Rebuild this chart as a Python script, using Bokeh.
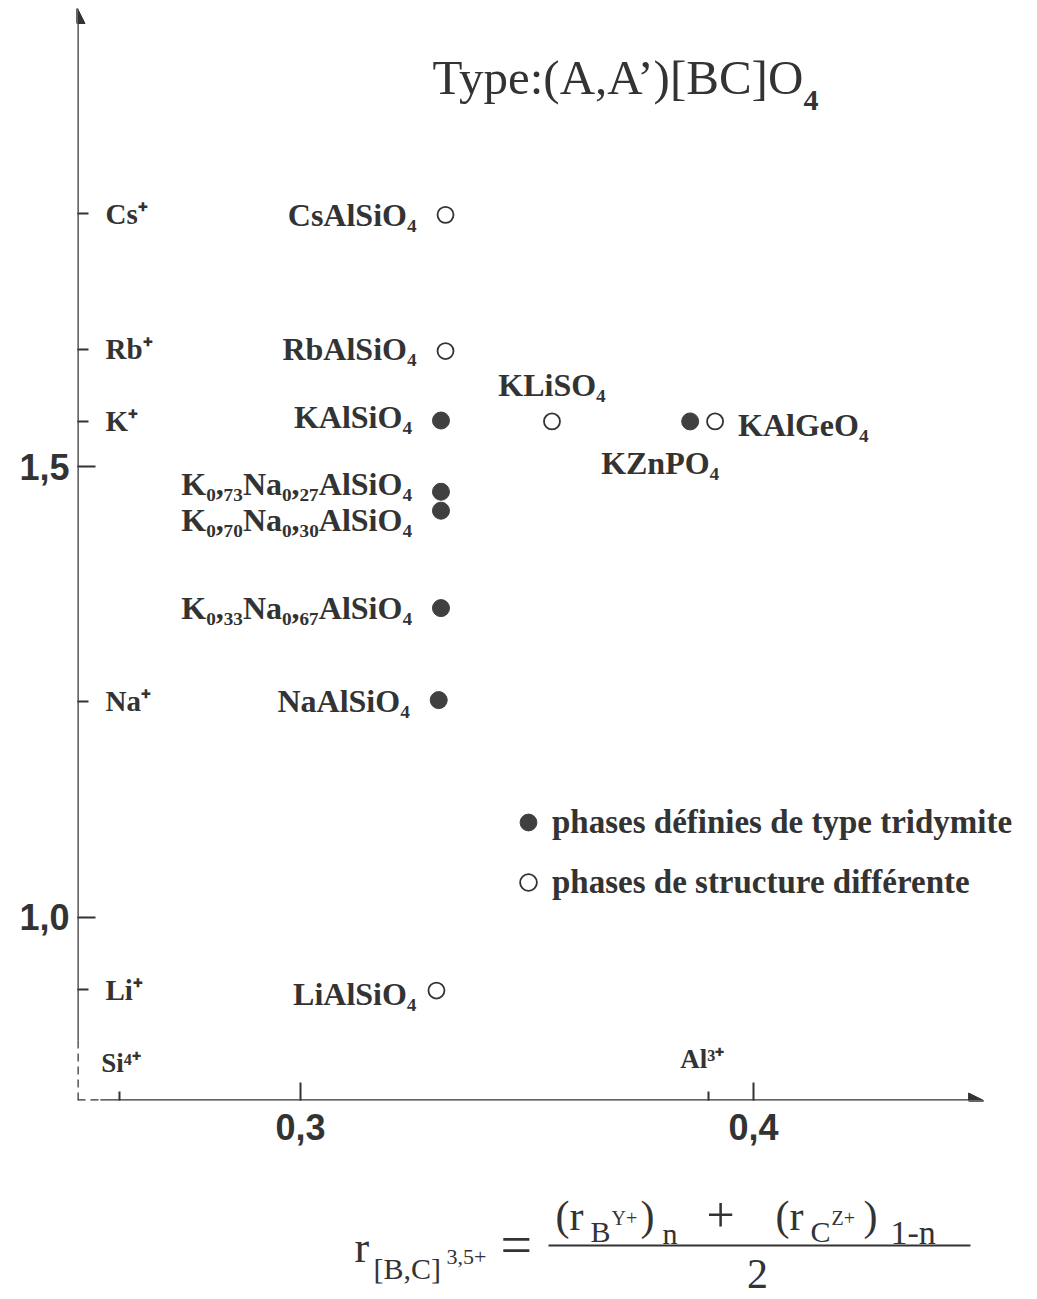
from bokeh.plotting import figure
from bokeh.layouts import column
from bokeh.models import (ColumnDataSource, FixedTicker, Arrow, NormalHead, Label,
                          Legend, LegendItem)
from bokeh.core.properties import value
from bokeh.embed import file_html
from bokeh.resources import INLINE

# ---------------- data ----------------
compounds = ["CsAlSiO₄", "RbAlSiO₄", "KAlSiO₄", "K₀,₇₃Na₀,₂₇AlSiO₄",
             "K₀,₇₀Na₀,₃₀AlSiO₄", "K₀,₃₃Na₀,₆₇AlSiO₄", "NaAlSiO₄", "LiAlSiO₄",
             "KLiSO₄", "KZnPO₄", "KAlGeO₄"]
r_bc = [0.332, 0.332, 0.331, 0.331, 0.331, 0.331, 0.3305, 0.330, 0.3555, 0.386, 0.3915]
r_a = [1.779, 1.628, 1.551, 1.472, 1.451, 1.343, 1.241, 0.919, 1.550, 1.550, 1.550]
tridymite = [False, False, True, True, True, True, True, False, False, True, False]

a_ions = ["Cs⁺", "Rb⁺", "K⁺", "Na⁺", "Li⁺"]
a_radii = [1.78, 1.63, 1.55, 1.24, 0.92]
bc_ions = ["Si⁴⁺", "Al³⁺"]
bc_radii = [0.26, 0.39]

x_ticks = [0.3, 0.4]
x_tick_labels = ["0,3", "0,4"]
y_ticks = [1.0, 1.5]
y_tick_labels = ["1,0", "1,5"]

legend_labels = ["phases définies de type tridymite", "phases de structure différente"]
title_text = "Type:(A,A’)[BC]O"

# ---------------- layout constants ----------------
XMIN, XMAX = 0.25077, 0.4609      # frame range (frame runs to the page edge)
X_AXIS_END = 0.45077              # tip of the x-axis arrow
YMIN, YMAX = 0.7971, 2.0078
X_BREAK, Y_BREAK = 0.2558, 0.8636
PAGE_W, MAIN_H, FORMULA_H = 1029, 1155, 144
FRAME_LEFT, FRAME_RIGHT, FRAME_BOTTOM = 77, PAGE_W, 1100
INK = "#333333"
SERIF = "Liberation Serif"
SANS = "Liberation Sans"
MID = 0.3375  # middle of the em box above the baseline, in em

# label offsets (screen px) per compound: (x_offset, y_offset, align)
label_layout = {
    "CsAlSiO₄": (-29, 0, "right"),
    "RbAlSiO₄": (-29, -2, "right"),
    "KAlSiO₄": (-29, -4, "right"),
    "K₀,₇₃Na₀,₂₇AlSiO₄": (-29, -8, "right"),
    "K₀,₇₀Na₀,₃₀AlSiO₄": (-29, 9, "right"),
    "K₀,₃₃Na₀,₆₇AlSiO₄": (-29, 0, "right"),
    "NaAlSiO₄": (-29, 1, "right"),
    "LiAlSiO₄": (-20, 3, "right"),
    "KLiSO₄": (0, -36, "center"),
    "KZnPO₄": (-30, 42, "center"),
    "KAlGeO₄": (23, 4, "left"),
}

p = figure(width=PAGE_W, height=MAIN_H, x_range=(XMIN, XMAX), y_range=(YMIN, YMAX),
           output_backend="svg", toolbar_location=None,
           min_border_left=FRAME_LEFT, min_border_right=PAGE_W - FRAME_RIGHT,
           min_border_top=8, min_border_bottom=MAIN_H - FRAME_BOTTOM)
p.outline_line_color = None
p.xgrid.visible = False
p.ygrid.visible = False
p.background_fill_color = "white"

for ax in (p.xaxis[0], p.yaxis[0]):
    ax.axis_line_color = None
    ax.major_tick_line_color = INK
    ax.minor_tick_line_color = INK
    ax.major_tick_line_width = 2
    ax.minor_tick_line_width = 2
    ax.major_tick_out = 0
    ax.minor_tick_out = 0
    ax.major_label_text_font = SANS
    ax.major_label_text_font_style = "bold"
    ax.major_label_text_font_size = "36px"
    ax.major_label_text_color = INK

p.xaxis.ticker = FixedTicker(ticks=x_ticks, minor_ticks=bc_radii)
p.xaxis.major_label_overrides = dict(zip(x_ticks, x_tick_labels))
p.xaxis.major_tick_in = 18
p.xaxis.minor_tick_in = 9
p.xaxis.major_label_standoff = 13

p.yaxis.ticker = FixedTicker(ticks=y_ticks, minor_ticks=a_radii)
p.yaxis.major_label_overrides = dict(zip(y_ticks, y_tick_labels))
p.yaxis.major_tick_in = 18
p.yaxis.minor_tick_in = 11
p.yaxis.major_label_standoff = 8

# axis lines with arrows and dashed break near the origin
p.add_layout(Arrow(end=NormalHead(size=15, fill_color=INK, line_color=INK),
                   x_start=X_BREAK, y_start=YMIN, x_end=X_AXIS_END, y_end=YMIN,
                   line_color=INK, line_width=2.5))
p.add_layout(Arrow(end=NormalHead(size=15, fill_color=INK, line_color=INK),
                   x_start=XMIN, y_start=Y_BREAK, x_end=XMIN, y_end=YMAX,
                   line_color=INK, line_width=2.5))
p.add_layout(Arrow(end=None, x_start=XMIN, y_start=YMIN, x_end=X_BREAK, y_end=YMIN,
                   line_color=INK, line_width=2.5, line_dash="8 5"))
p.add_layout(Arrow(end=None, x_start=XMIN, y_start=YMIN, x_end=XMIN, y_end=Y_BREAK,
                   line_color=INK, line_width=2.5, line_dash="8 5"))

# ion labels along the axes
ion_src = ColumnDataSource(dict(x=[XMIN] * len(a_ions), y=a_radii, t=a_ions))
p.text("x", "y", text="t", source=ion_src, x_offset=28, y_offset=0,
       text_font=value(SERIF), text_font_style="bold", text_font_size="29px",
       text_color=INK, text_baseline="middle", text_align="left")
bc_src = ColumnDataSource(dict(x=bc_radii, y=[YMIN] * len(bc_ions), t=bc_ions,
                               xo=[-18, -28], yo=[-38, -42]))
p.text("x", "y", text="t", source=bc_src, x_offset="xo", y_offset="yo",
       text_font=value(SERIF), text_font_style="bold", text_font_size="27px",
       text_color=INK, text_baseline="middle", text_align="left")

# points
fx = [x for x, t in zip(r_bc, tridymite) if t]
fy = [y for y, t in zip(r_a, tridymite) if t]
ox = [x for x, t in zip(r_bc, tridymite) if not t]
oy = [y for y, t in zip(r_a, tridymite) if not t]
r_filled = p.scatter(fx, fy, size=17, marker="circle", fill_color="#404040", line_color="#404040")
r_open = p.scatter(ox, oy, size=16, marker="circle", fill_color="white", line_color=INK, line_width=1.8)

# compound labels
for align in ("right", "left", "center"):
    sel = [i for i, c in enumerate(compounds) if label_layout[c][2] == align]
    src = ColumnDataSource(dict(
        x=[r_bc[i] for i in sel], y=[r_a[i] for i in sel],
        t=[compounds[i] for i in sel],
        xo=[label_layout[compounds[i]][0] for i in sel],
        yo=[label_layout[compounds[i]][1] for i in sel]))
    p.text("x", "y", text="t", source=src, x_offset="xo", y_offset="yo",
           text_font=value(SERIF), text_font_style="bold", text_font_size="32px",
           text_color=INK, text_baseline="middle", text_align=align)

# legend
legend = Legend(items=[LegendItem(label=legend_labels[0], renderers=[r_filled]),
                       LegendItem(label=legend_labels[1], renderers=[r_open])],
                location=(430, 197), orientation="vertical")
legend.border_line_color = None
legend.background_fill_alpha = 0
legend.padding = 0
legend.margin = 0
legend.spacing = 18
legend.glyph_width = 42
legend.glyph_height = 42
legend.label_standoff = 3
legend.label_height = 42
legend.label_text_font = SERIF
legend.label_text_font_style = "bold"
legend.label_text_font_size = "33px"
legend.label_text_color = INK
legend.label_text_baseline = "middle"
p.add_layout(legend, "center")


def frame_label(text, px, py_mid, size, style="normal"):
    return Label(x=px - FRAME_LEFT, y=FRAME_BOTTOM - py_mid, x_units="screen",
                 y_units="screen", text=text, text_font=SERIF, text_font_style=style,
                 text_font_size=f"{size}px", text_color=INK, text_baseline="middle")

# title
p.add_layout(frame_label(title_text, 432, 77, 49))
p.add_layout(frame_label("4", 803, 100, 30, "bold"))

# ---------------- formula below the chart ----------------
# the column aligns this frame with the chart frame, so map page x directly
f = figure(width=PAGE_W, height=FORMULA_H, x_range=(FRAME_LEFT, FRAME_RIGHT),
           y_range=(MAIN_H + FORMULA_H, MAIN_H),
           output_backend="svg", toolbar_location=None, x_axis_type=None, y_axis_type=None,
           min_border_left=FRAME_LEFT, min_border_right=PAGE_W - FRAME_RIGHT,
           min_border_top=0, min_border_bottom=0)
f.outline_line_color = None
f.xgrid.visible = False
f.ygrid.visible = False

# (text, x, baseline, font size, align)
formula_parts = [
    ("r", 354, 1262, 44, "left"), ("[B,C]", 373, 1278, 30, "left"),
    ("3,5+", 446, 1264, 22, "left"),
    ("=", 500, 1263, 56, "left"),
    ("(r", 555, 1230, 42, "left"), ("B", 590, 1241, 30, "left"),
    ("Y+", 611, 1224, 20, "left"),
    (")", 640, 1230, 42, "left"), ("n", 662, 1243, 30, "left"),
    ("+", 706, 1232, 50, "left"),
    ("(r", 775, 1230, 42, "left"), ("C", 810, 1241, 30, "left"),
    ("Z+", 831, 1224, 20, "left"),
    (")", 863, 1230, 42, "left"), ("1-n", 890, 1243, 34, "left"),
    ("2", 757, 1288, 42, "center"),
]
for t, px, base, s, al in formula_parts:
    f.add_layout(Label(x=px, y=base - MID * s, text=t, text_font=SERIF, text_align=al,
                       text_font_size=f"{s}px", text_color=INK, text_baseline="middle"))
f.segment(x0=[548], y0=[1245], x1=[970], y1=[1245], line_color=INK, line_width=2)

open("out.html", "w").write(file_html(column(p, f, spacing=0), INLINE))
